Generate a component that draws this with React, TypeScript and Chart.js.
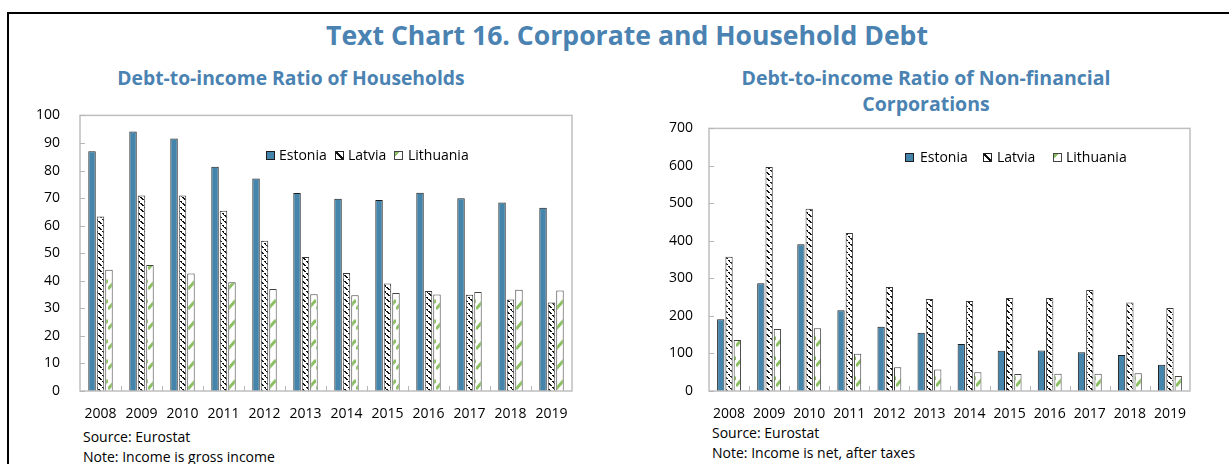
import React, { useEffect, useRef } from "react";
import { Chart, registerables } from "chart.js";

Chart.register(...registerables);

const years = ["2008", "2009", "2010", "2011", "2012", "2013", "2014", "2015", "2016", "2017", "2018", "2019"];
const seriesNames = ["Estonia", "Latvia", "Lithuania"];

const householdsEstonia = [87.0, 94.2, 91.6, 81.4, 77.1, 71.8, 69.8, 69.3, 71.9, 69.9, 68.4, 66.5];
const householdsLatvia = [63.3, 70.9, 70.9, 65.4, 54.5, 48.6, 42.8, 39.0, 36.3, 34.9, 33.2, 32.1];
const householdsLithuania = [44.0, 45.7, 42.6, 39.5, 37.0, 35.1, 34.7, 35.6, 35.0, 35.9, 36.7, 36.5];
const householdTicks = [0, 10, 20, 30, 40, 50, 60, 70, 80, 90, 100];

const corporateEstonia = [191, 287, 391, 215, 171, 155, 125, 107, 108, 103, 96, 70];
const corporateLatvia = [358, 597, 486, 421, 277, 245, 240, 248, 248, 269, 236, 221];
const corporateLithuania = [136, 165, 167, 99, 63, 57, 50, 45, 46, 46, 47, 40];
const corporateTicks = [0, 100, 200, 300, 400, 500, 600, 700];

const FONT = "'Open Sans', 'Noto Sans', sans-serif";
const BLUE = "#4585ab";
const TITLE_BLUE = "#4a82b2";
const GREEN = "#8cc063";

function makeLatviaPattern(ctx: CanvasRenderingContext2D) {
  const c = document.createElement("canvas");
  c.width = 6;
  c.height = 6;
  const g = c.getContext("2d")!;
  g.fillStyle = "#ffffff";
  g.fillRect(0, 0, 6, 6);
  g.fillStyle = "#111111";
  for (let i = 0; i < 6; i++) {
    if (i !== 3) g.fillRect(i, i, 2, 1);
  }
  return ctx.createPattern(c, "repeat")!;
}

function makeLithuaniaPattern(ctx: CanvasRenderingContext2D) {
  const c = document.createElement("canvas");
  c.width = 8;
  c.height = 20;
  const g = c.getContext("2d")!;
  g.fillStyle = "#ffffff";
  g.fillRect(0, 0, 8, 20);
  g.strokeStyle = GREEN;
  g.lineWidth = 3;
  g.beginPath();
  g.moveTo(0, 14);
  g.lineTo(8, 5);
  g.stroke();
  return ctx.createPattern(c, "repeat")!;
}

const frameAndTicks = {
  id: "frameAndTicks",
  afterDatasetsDraw(chart: any) {
    const { ctx, chartArea: a, scales } = chart;
    ctx.save();
    ctx.strokeStyle = "#bfbfbf";
    ctx.lineWidth = 1.5;
    ctx.strokeRect(a.left, a.top, a.right - a.left, a.bottom - a.top);
    ctx.beginPath();
    const y = scales.y;
    y.ticks.forEach((t: any) => {
      const py = Math.round(y.getPixelForValue(t.value)) + 0.5;
      ctx.moveTo(a.left, py);
      ctx.lineTo(a.left + 5, py);
    });
    const x = scales.x;
    const n = x.ticks.length;
    for (let i = 1; i < n; i++) {
      const px = Math.round((x.getPixelForValue(i - 1) + x.getPixelForValue(i)) / 2) + 0.5;
      ctx.moveTo(px, a.bottom);
      ctx.lineTo(px, a.bottom - 5);
    }
    ctx.lineWidth = 1;
    ctx.strokeStyle = "#b5b5b5";
    ctx.stroke();
    ctx.restore();
  },
};

type ChartProps = {
  values: number[][];
  ticks: number[];
  left: number;
  top: number;
  width: number;
  height: number;
  yWidth: number;
  padTop: number;
  padRight: number;
  tickPad: number;
};

function BarChart(p: ChartProps) {
  const ref = useRef<HTMLCanvasElement | null>(null);
  useEffect(() => {
    const canvas = ref.current!;
    const ctx = canvas.getContext("2d")!;
    const fills = [BLUE, makeLatviaPattern(ctx), makeLithuaniaPattern(ctx)];
    const borders = ["#1d1d1d", "#3a3a3a", "#444444"];
    const chart = new Chart(ctx, {
      type: "bar",
      data: {
        labels: years,
        datasets: p.values.map((v, i) => ({
          label: seriesNames[i],
          data: v,
          backgroundColor: fills[i] as any,
          borderColor: borders[i],
          borderWidth: 1,
          categoryPercentage: 0.62,
          barPercentage: 0.88,
        })),
      },
      options: {
        responsive: false,
        animation: false,
        devicePixelRatio: 1,
        layout: { padding: { top: p.padTop, right: p.padRight, left: 0, bottom: 0 } },
        plugins: { legend: { display: false }, tooltip: { enabled: false }, title: { display: false } },
        scales: {
          x: {
            grid: { display: false },
            border: { display: false },
            ticks: { color: "#000", font: { family: FONT, size: 14 }, padding: 7, maxRotation: 0, autoSkip: false },
            afterFit: (s: any) => {
              s.height = 30;
            },
          },
          y: {
            min: p.ticks[0],
            max: p.ticks[p.ticks.length - 1],
            afterBuildTicks: (s: any) => {
              s.ticks = p.ticks.map((v) => ({ value: v }));
            },
            grid: { display: false },
            border: { display: false },
            ticks: { color: "#000", font: { family: FONT, size: 14 }, padding: p.tickPad },
            afterFit: (s: any) => {
              s.width = p.yWidth;
            },
          },
        },
      },
      plugins: [frameAndTicks],
    });
    return () => chart.destroy();
  }, []);
  return (
    <canvas
      ref={ref}
      width={p.width}
      height={p.height}
      style={{ position: "absolute", left: p.left, top: p.top, width: p.width, height: p.height }}
    />
  );
}

function Swatch({ kind }: { kind: number }) {
  const base: React.CSSProperties = {
    position: "absolute",
    width: 9,
    height: 9,
    boxSizing: "border-box",
  };
  if (kind === 0) return <div style={{ ...base, background: BLUE, border: "1px solid #1d1d1d" }} />;
  if (kind === 1)
    return (
      <div
        style={{
          ...base,
          border: "1px solid #222",
          background: "linear-gradient(45deg, #fff 0 42%, #111 42% 60%, #fff 60% 100%)",
        }}
      />
    );
  return (
    <div
      style={{
        ...base,
        border: "1px solid #444",
        background: `linear-gradient(135deg, ${GREEN} 0 35%, #fff 35% 100%)`,
      }}
    />
  );
}

function Legend({ left, top, positions }: { left: number; top: number; positions: number[][] }) {
  return (
    <>
      {seriesNames.map((name, i) => (
        <React.Fragment key={name}>
          <div style={{ position: "absolute", left: left + positions[i][0], top: top + 1 }}>
            <Swatch kind={i} />
          </div>
          <div
            style={{
              position: "absolute",
              left: left + positions[i][1],
              top: top - 5,
              fontFamily: FONT,
              fontSize: 14,
              color: "#000",
              lineHeight: "20px",
              whiteSpace: "nowrap",
            }}
          >
            {name}
          </div>
        </React.Fragment>
      ))}
    </>
  );
}

const textStyle: React.CSSProperties = {
  position: "absolute",
  fontFamily: FONT,
  fontSize: 14,
  color: "#000",
  lineHeight: "20px",
  whiteSpace: "nowrap",
};

export default function App() {
  return (
    <div style={{ position: "fixed", left: 0, top: 0, width: 1229, height: 464, overflow: "hidden", background: "#fff" }}>
      <div
        style={{
          position: "absolute",
          left: 7,
          top: 12,
          width: 1300,
          height: 600,
          borderLeft: "2px solid #000",
          borderTop: "2px solid #000",
        }}
      />
      <div
        style={{
          position: "absolute",
          left: 0,
          width: 1254,
          top: 16,
          textAlign: "center",
          fontFamily: FONT,
          fontWeight: 700,
          fontSize: 26.6,
          lineHeight: "38px",
          color: TITLE_BLUE,
          whiteSpace: "nowrap",
        }}
      >
        Text Chart 16. Corporate and Household Debt
      </div>
      <div
        style={{
          position: "absolute",
          left: 91,
          width: 400,
          top: 65,
          textAlign: "center",
          fontFamily: FONT,
          fontWeight: 700,
          fontSize: 19.3,
          lineHeight: "26px",
          color: TITLE_BLUE,
          whiteSpace: "nowrap",
        }}
      >
        Debt-to-income Ratio of Households
      </div>
      <div
        style={{
          position: "absolute",
          left: 726,
          width: 400,
          top: 65,
          textAlign: "center",
          fontFamily: FONT,
          fontWeight: 700,
          fontSize: 19.5,
          lineHeight: "26px",
          color: TITLE_BLUE,
          whiteSpace: "nowrap",
        }}
      >
        Debt-to-income Ratio of Non-financial
        <br />
        Corporations
      </div>

      <BarChart
        values={[householdsEstonia, householdsLatvia, householdsLithuania]}
        ticks={householdTicks}
        left={20}
        top={95}
        width={570}
        height={326}
        yWidth={60}
        padTop={4}
        padRight={18}
        tickPad={12}
      />
      <BarChart
        values={[corporateEstonia, corporateLatvia, corporateLithuania]}
        ticks={corporateTicks}
        left={640}
        top={112}
        width={560}
        height={309}
        yWidth={69}
        padTop={13}
        padRight={10}
        tickPad={8}
      />

      <Legend left={266} top={150} positions={[[0, 13], [69, 82], [128, 142]]} />
      <Legend left={905} top={152} positions={[[0, 15], [78, 92], [148, 161]]} />

      <div style={{ ...textStyle, left: 83, top: 427 }}>Source: Eurostat</div>
      <div style={{ ...textStyle, left: 83, top: 447 }}>Note: Income is gross income</div>
      <div style={{ ...textStyle, left: 712, top: 423 }}>Source: Eurostat</div>
      <div style={{ ...textStyle, left: 712, top: 443 }}>Note: Income is net, after taxes</div>
    </div>
  );
}
